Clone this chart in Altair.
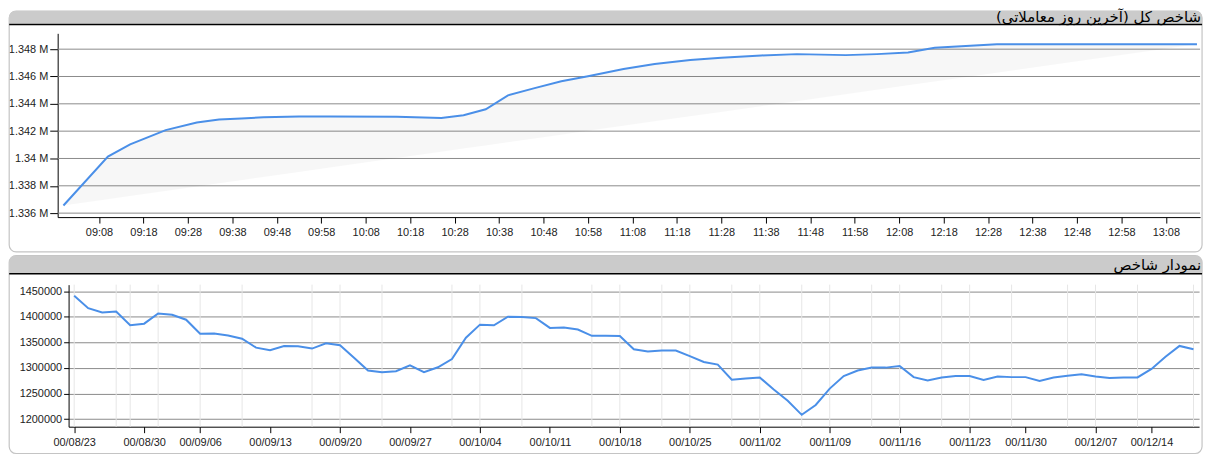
import altair as alt
import pandas as pd

# ---------------- data ----------------
top_title = "شاخص کل (آخرین روز معاملاتی)"
bottom_title = "نمودار شاخص"

top_times = ["09:00", "09:10", "09:15", "09:23", "09:30", "09:35", "09:40", "09:45",
             "09:53", "10:00", "10:15", "10:25", "10:30", "10:35", "10:40", "10:46",
             "10:52", "10:58", "11:06", "11:13", "11:21", "11:28", "11:37", "11:45",
             "11:56", "12:03", "12:10", "12:16", "12:24", "12:30", "13:15"]
top_values = [1336560, 1340140, 1341030, 1342076, 1342628, 1342846, 1342918, 1343020,
              1343064, 1343064, 1343050, 1342969, 1343165, 1343601, 1344617, 1345147,
              1345655, 1346018, 1346548, 1346911, 1347201, 1347376, 1347543, 1347637,
              1347564, 1347637, 1347760, 1348100, 1348247, 1348363, 1348363]
top_tick_times = ["09:08", "09:18", "09:28", "09:38", "09:48", "09:58", "10:08", "10:18",
                  "10:28", "10:38", "10:48", "10:58", "11:08", "11:18", "11:28", "11:38",
                  "11:48", "11:58", "12:08", "12:18", "12:28", "12:38", "12:48", "12:58",
                  "13:08"]
top_y_ticks = [1336000, 1338000, 1340000, 1342000, 1344000, 1346000, 1348000]

bottom_dates = ["00/08/23", "00/08/24", "00/08/25", "00/08/26", "00/08/29", "00/08/30",
                "00/09/01", "00/09/02", "00/09/03", "00/09/06", "00/09/07", "00/09/08",
                "00/09/09", "00/09/10", "00/09/13", "00/09/14", "00/09/15", "00/09/16",
                "00/09/17", "00/09/20", "00/09/21", "00/09/22", "00/09/23", "00/09/24",
                "00/09/27", "00/09/28", "00/09/29", "00/09/30", "00/10/01", "00/10/04",
                "00/10/05", "00/10/06", "00/10/07", "00/10/08", "00/10/11", "00/10/12",
                "00/10/13", "00/10/14", "00/10/15", "00/10/18", "00/10/19", "00/10/20",
                "00/10/21", "00/10/22", "00/10/25", "00/10/26", "00/10/27", "00/10/28",
                "00/10/29", "00/11/02", "00/11/03", "00/11/04", "00/11/05", "00/11/06",
                "00/11/09", "00/11/10", "00/11/11", "00/11/12", "00/11/13", "00/11/16",
                "00/11/17", "00/11/18", "00/11/19", "00/11/20", "00/11/23", "00/11/24",
                "00/11/25", "00/11/27", "00/11/30", "00/12/01", "00/12/02", "00/12/03",
                "00/12/04", "00/12/07", "00/12/08", "00/12/09", "00/12/11", "00/12/14",
                "00/12/15", "00/12/16", "00/12/17"]
bottom_values = [1441000, 1416700, 1408300, 1410300, 1383300, 1386500, 1406400, 1403800,
                 1394200, 1366700, 1367300, 1363500, 1357000, 1339700, 1334600, 1343000,
                 1342300, 1337800, 1348100, 1344200, 1320000, 1294900, 1291700, 1293600,
                 1305100, 1291700, 1301300, 1317300, 1359000, 1384600, 1383300, 1400000,
                 1399400, 1397400, 1378200, 1378800, 1375000, 1362800, 1362800, 1362200,
                 1336500, 1332000, 1334000, 1334000, 1323100, 1311500, 1306400, 1276900,
                 1279500, 1281400, 1257700, 1235900, 1208300, 1227600, 1259600, 1284000,
                 1294900, 1300600, 1300600, 1303800, 1282000, 1275600, 1281400, 1284000,
                 1284000, 1276300, 1283300, 1282000, 1282000, 1274400, 1281400, 1284600,
                 1287800, 1283300, 1280100, 1281400, 1281400, 1298100, 1321800, 1343000,
                 1336500]
bottom_tick_dates = ["00/08/23", "00/08/30", "00/09/06", "00/09/13", "00/09/20", "00/09/27",
                     "00/10/04", "00/10/11", "00/10/18", "00/10/25", "00/11/02", "00/11/09",
                     "00/11/16", "00/11/23", "00/11/30", "00/12/07", "00/12/14"]
bottom_grid_dates = ["00/08/23", "00/08/26", "00/08/29", "00/09/01", "00/09/06", "00/09/09",
                     "00/09/16", "00/09/20", "00/09/23", "00/09/30", "00/10/04", "00/10/07",
                     "00/10/14", "00/10/18", "00/10/21", "00/10/25", "00/10/28", "00/11/02",
                     "00/11/05", "00/11/09", "00/11/12", "00/11/16", "00/11/19", "00/11/23",
                     "00/11/27", "00/12/03", "00/12/07", "00/12/11", "00/12/17"]
bottom_y_ticks = [1200000, 1250000, 1300000, 1350000, 1400000, 1450000]

# ---------------- style ----------------
LINE = "#4a8fe8"
GRID = "#8a8a8a"
HEADER = "#cbcbcb"
FRAME = "#c4c4c4"
LABEL_FONT = "Liberation Sans"
TITLE_FONT = "DejaVu Sans"
RLM = "\u200f"

# both panels share the same group origin (x of the lower plot's y axis);
# the upper plot area starts INSET px further left (its axis is offset).
INSET = 11
W1, H1 = 1139, 185
W2, H2 = 1138, 143
LEFT, RIGHT = -59.8, 1141.0


def to_min(t):
    return int(t[:2]) * 60 + int(t[3:]) - 540


top_df = pd.DataFrame({"time": top_times, "value": top_values})
top_df["minute"] = [to_min(t) for t in top_times]
top_grid_df = pd.DataFrame({"value": top_y_ticks})
bot_df = pd.DataFrame({"date": bottom_dates, "value": bottom_values})
grid_df = pd.DataFrame({"date": bottom_grid_dates})


def header(top, bottom, frame_bottom, title, text_y, size):
    d = pd.DataFrame({"label": [title + RLM]})
    base = alt.Chart(d)
    frame = base.mark_rect(fill="white", fillOpacity=0, stroke=FRAME, strokeWidth=1.2,
                           cornerRadius=7).encode(
        x=alt.value(LEFT), x2=alt.value(RIGHT), y=alt.value(top), y2=alt.value(frame_bottom))
    bar = base.mark_rect(fill=HEADER, cornerRadiusTopLeft=6, cornerRadiusTopRight=6).encode(
        x=alt.value(LEFT), x2=alt.value(RIGHT), y=alt.value(top), y2=alt.value(bottom))
    line = base.mark_rule(color="black", strokeWidth=1.6).encode(
        x=alt.value(LEFT), x2=alt.value(RIGHT), y=alt.value(bottom + 0.8))
    txt = base.mark_text(align="right", baseline="alphabetic", font=TITLE_FONT,
                         fontSize=size, color="black").encode(
        x=alt.value(RIGHT - 1), y=alt.value(text_y), text="label:N")
    return [frame, bar, line, txt]


# ---------------- top panel ----------------
x_top = alt.X("minute:Q",
              scale=alt.Scale(domain=[-1.3, 255.7], range=[-INSET, W1], nice=False, zero=False),
              axis=alt.Axis(values=[to_min(t) for t in top_tick_times],
                            labelExpr="timeFormat(datetime(2000, 0, 1, 9, datum.value), '%H:%M')",
                            grid=False, tickSize=6, labelPadding=4, title=None))
y_top = alt.Y("value:Q",
              scale=alt.Scale(domain=[1335710, 1349160], nice=False, zero=False),
              axis=alt.Axis(values=top_y_ticks, offset=INSET,
                            labelExpr="format(datum.value / 1000000, '.3~f') + ' M'",
                            grid=False, tickSize=8, labelPadding=2, title=None))

top_grid = alt.Chart(top_grid_df).mark_rule(color=GRID, strokeWidth=1).encode(
    y=y_top, x=alt.value(-INSET), x2=alt.value(W1))

area = alt.Chart(top_df).transform_joinaggregate(
    first="argmin(minute)", last="argmax(minute)"
).transform_calculate(
    base="datum.first.value + (datum.last.value - datum.first.value) * "
         "(datum.minute - datum.first.minute) / (datum.last.minute - datum.first.minute)"
).mark_area(color="black", opacity=0.03).encode(x=x_top, y=y_top, y2="base:Q")

top_line = alt.Chart(top_df).mark_line(color=LINE, strokeWidth=2).encode(x=x_top, y=y_top)

top_layers = header(-22.4, -9.7, 220, top_title, -11.2, 15)
top_panel = alt.layer(*top_layers, top_grid, area, top_line).properties(width=W1, height=H1)

# ---------------- bottom panel ----------------
x_bot = alt.X("date:O", sort=None,
              scale=alt.Scale(type="point", domain=bottom_dates, padding=0.4),
              axis=alt.Axis(values=bottom_tick_dates, labelAngle=0, grid=False,
                            tickSize=6, labelPadding=4, title=None))
y_bot = alt.Y("value:Q",
              scale=alt.Scale(domain=[1185080, 1462790], nice=False, zero=False),
              axis=alt.Axis(values=bottom_y_ticks, format="d", grid=True,
                            tickSize=5, labelPadding=2, title=None))

vgrid = alt.Chart(grid_df).mark_rule(color="#e6e6e6", strokeWidth=1).encode(x=x_bot)
bot_line = alt.Chart(bot_df).mark_line(color=LINE, strokeWidth=2).encode(x=x_bot, y=y_bot)

bot_layers = header(-29.2, -11.7, H2 + 27, bottom_title, -14.5, 15)
bottom_panel = alt.layer(*bot_layers, vgrid, bot_line).properties(width=W2, height=H2)

chart = alt.vconcat(top_panel, bottom_panel, spacing=2, padding=0).configure_view(
    stroke=None
).configure_axis(
    domainColor="black", domainWidth=1, tickColor="black", tickWidth=1,
    gridColor=GRID, gridWidth=1, labelFont=LABEL_FONT, labelFontSize=11,
    labelColor="#222222"
)

chart.save("out.html", embed_options={"renderer": "svg", "actions": False})
